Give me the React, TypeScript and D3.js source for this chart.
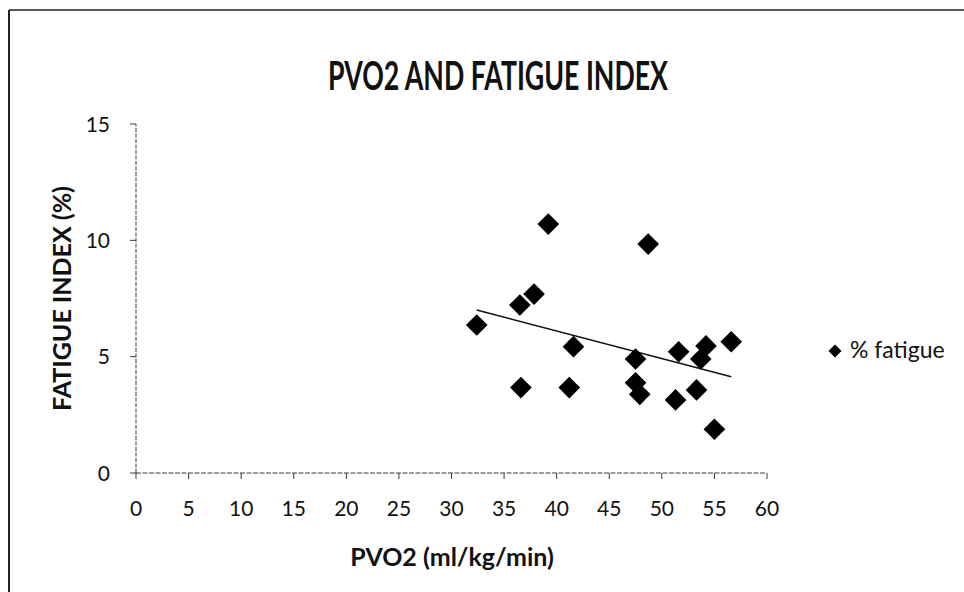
import React from "react";
import * as d3 from "d3";

const chartTitle = "PVO2 AND FATIGUE INDEX";
const xAxisTitle = "PVO2 (ml/kg/min)";
const yAxisTitle = "FATIGUE INDEX (%)";
const seriesName = "% fatigue";

const pvo2 = [32.4, 39.2, 48.7, 37.85, 36.5, 41.6, 47.5, 36.6, 41.2, 47.5, 47.9, 51.6, 54.2, 53.7, 56.6, 51.3, 53.3, 55.0];
const fatigue = [6.36, 10.7, 9.84, 7.69, 7.22, 5.43, 4.9, 3.67, 3.67, 3.88, 3.38, 5.21, 5.46, 4.9, 5.64, 3.14, 3.57, 1.88];

const xTicks = [0, 5, 10, 15, 20, 25, 30, 35, 40, 45, 50, 55, 60];
const yTicks = [0, 5, 10, 15];

const W = 964;
const H = 592;
const FONT = "Lato, 'Open Sans', sans-serif";

export default function App() {
  const x = d3.scaleLinear().domain([0, 60]).range([136, 767]);
  const y = d3.scaleLinear().domain([0, 15]).range([473, 124]);

  const pts = pvo2.map((v, i) => ({ x: v, y: fatigue[i] }));
  const mx = d3.mean(pts, (p) => p.x) as number;
  const my = d3.mean(pts, (p) => p.y) as number;
  const sxy = d3.sum(pts, (p) => (p.x - mx) * (p.y - my));
  const sxx = d3.sum(pts, (p) => (p.x - mx) * (p.x - mx));
  const slope = sxy / sxx;
  const intercept = my - slope * mx;
  const [xmin, xmax] = d3.extent(pvo2) as [number, number];
  const trend = d3
    .line<number>()
    .x((v) => x(v))
    .y((v) => y(intercept + slope * v))([xmin, xmax]);

  const diamond = d3.symbol().type(d3.symbolSquare).size(235)() as string;
  const legendDiamond = d3.symbol().type(d3.symbolSquare).size(85)() as string;

  const axisStroke = "#3a3a3a";

  return (
    <svg
      width={W}
      height={H}
      style={{ position: "absolute", left: 0, top: 0, background: "#fff" }}
      fontFamily={FONT}
    >
      <rect x={0} y={0} width={W} height={H} fill="#fff" />
      {/* outer frame */}
      <line x1={9} y1={10} x2={9} y2={H} stroke="#222" strokeWidth={2} />
      <line x1={9} y1={10} x2={W} y2={10} stroke="#222" strokeWidth={1.5} />

      {/* title */}
      <text
        x={498}
        y={90}
        textAnchor="middle"
        fontSize={40}
        fontWeight={700}
        fill="#111"
        textLength={340}
        lengthAdjust="spacingAndGlyphs"
      >
        {chartTitle}
      </text>

      {/* axes */}
      <line x1={x(0)} y1={y(0)} x2={x(0)} y2={y(15)} stroke={axisStroke} strokeWidth={1} strokeDasharray="4 1.5" />
      <line x1={x(0)} y1={y(0)} x2={x(60)} y2={y(0)} stroke={axisStroke} strokeWidth={1} strokeDasharray="5 1.5" />
      {yTicks.map((t) => (
        <g key={"yt" + t}>
          <line x1={x(0) - 6} x2={x(0)} y1={y(t)} y2={y(t)} stroke={axisStroke} />
          <text x={110} y={y(t)} dy="0.36em" textAnchor="end" fontSize={21} fill="#111">
            {t}
          </text>
        </g>
      ))}
      {xTicks.map((t) => (
        <g key={"xt" + t}>
          <line x1={x(t)} x2={x(t)} y1={y(0)} y2={y(0) + 6} stroke={axisStroke} />
          <text x={x(t)} y={516} textAnchor="middle" fontSize={21} fill="#111">
            {t}
          </text>
        </g>
      ))}

      {/* axis titles */}
      <text x={452} y={566} textAnchor="middle" fontSize={25} fontWeight={700} fill="#111">
        {xAxisTitle}
      </text>
      <text
        transform={`translate(71, ${(y(0) + y(15)) / 2}) rotate(-90)`}
        textAnchor="middle"
        fontSize={25}
        fontWeight={700}
        fill="#111"
      >
        {yAxisTitle}
      </text>

      {/* trendline */}
      <path d={trend as string} fill="none" stroke="#111" strokeWidth={1.6} />

      {/* points */}
      {pts.map((p, i) => (
        <path
          key={i}
          d={diamond}
          transform={`translate(${x(p.x)}, ${y(p.y)}) rotate(45)`}
          fill="#000"
        />
      ))}

      {/* legend */}
      <path d={legendDiamond} transform="translate(835, 351) rotate(45)" fill="#000" />
      <text x={850} y={358} fontSize={23} fill="#111">
        {seriesName}
      </text>
    </svg>
  );
}
